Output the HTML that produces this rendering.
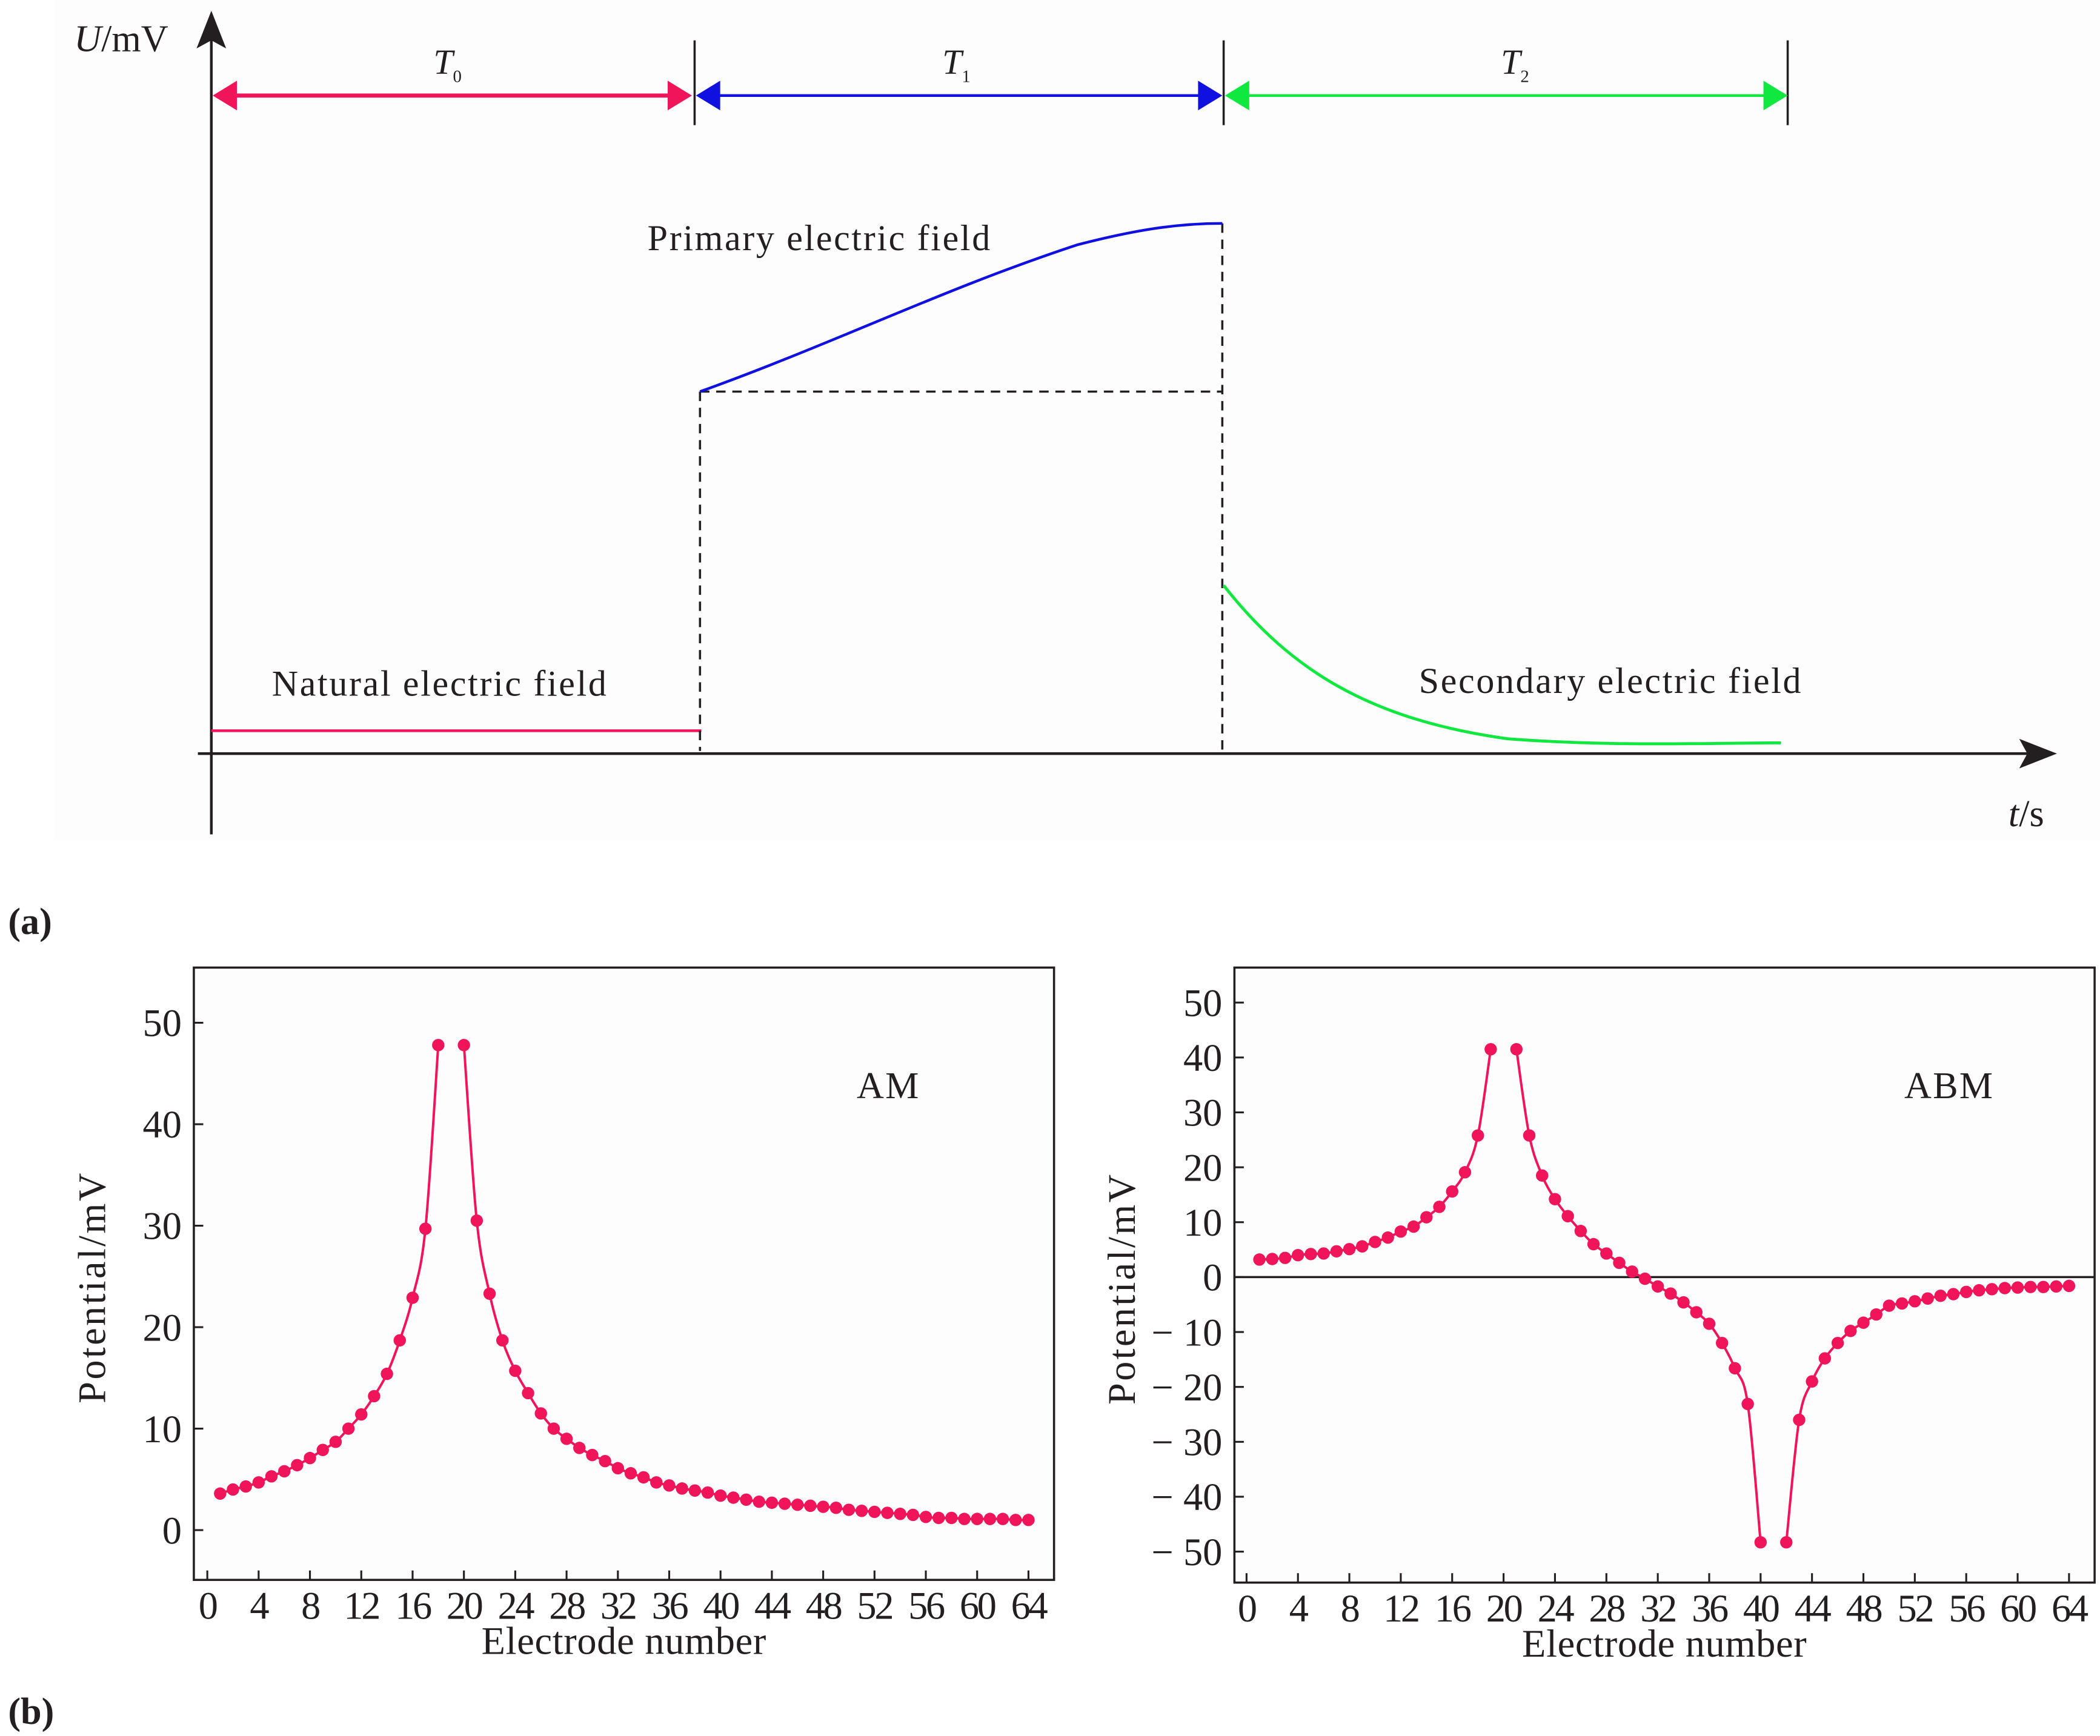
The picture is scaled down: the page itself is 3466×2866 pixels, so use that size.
<!DOCTYPE html>
<html><head><meta charset="utf-8"><style>
html,body{margin:0;padding:0;background:#fff;}
svg{display:block;}
text{font-family:"Liberation Serif",serif;fill:#231f20;}
</style></head><body>
<svg id="fig" width="3466" height="2866" viewBox="0 0 1560 1290" preserveAspectRatio="none" xmlns="http://www.w3.org/2000/svg">
<rect x="0" y="0" width="1560" height="1290" fill="#fff"/>
<rect x="40" y="0" width="1520" height="625" fill="#fdfdfe"/>
<g>
<line x1="157" y1="620" x2="157" y2="20" stroke="#231f20" stroke-width="2"/>
<path d="M157,8 L146,36 L157,30 L168,36 Z" fill="#231f20"/>
<line x1="147" y1="560" x2="1515" y2="560" stroke="#231f20" stroke-width="2"/>
<path d="M1528,560 L1500,549 L1506,560 L1500,571 Z" fill="#231f20"/>
<text x="55" y="38" font-size="28"><tspan font-style="italic">U</tspan>/mV</text>
<text x="1492" y="614" font-size="28"><tspan font-style="italic">t</tspan>/s</text>
<g stroke="#231f20" stroke-width="1.6">
<line x1="516" y1="30" x2="516" y2="93"/>
<line x1="909" y1="30" x2="909" y2="93"/>
<line x1="1328" y1="30" x2="1328" y2="93"/>
</g>
<g>
<line x1="170" y1="71" x2="500" y2="71" stroke="#f0145a" stroke-width="3"/>
<path d="M158,71 L176,60 L176,82 Z M514,71 L496,60 L496,82 Z" fill="#f0145a"/></g>
<g>
<line x1="530" y1="71" x2="895" y2="71" stroke="#1010e0" stroke-width="2"/>
<path d="M517,71 L535,60 L535,82 Z M908,71 L890,60 L890,82 Z" fill="#1010e0"/></g>
<g>
<line x1="925" y1="71" x2="1315" y2="71" stroke="#10e840" stroke-width="2"/>
<path d="M910,71 L928,60 L928,82 Z M1328,71 L1310,60 L1310,82 Z" fill="#10e840"/></g>
<text x="322" y="55" font-size="26" font-style="italic">T<tspan font-size="13" font-style="normal" dy="6">0</tspan></text>
<text x="700" y="55" font-size="26" font-style="italic">T<tspan font-size="13" font-style="normal" dy="6">1</tspan></text>
<text x="1115" y="55" font-size="26" font-style="italic">T<tspan font-size="13" font-style="normal" dy="6">2</tspan></text>
<line x1="157" y1="543" x2="521" y2="543" stroke="#f0145a" stroke-width="2"/>
<g stroke="#231f20" stroke-width="1.6" stroke-dasharray="7,5" fill="none">
<line x1="520" y1="291" x2="520" y2="558"/>
<line x1="520" y1="291" x2="908" y2="291"/>
<line x1="908" y1="166" x2="908" y2="558"/>
</g>
<path d="M520,291 C620,255 700,215 800,182 C850,169 880,166 908,166" fill="none" stroke="#1010e0" stroke-width="2"/>
<path d="M909,435 C960,500 1020,535 1120,549 C1200,555 1270,552 1323,552" fill="none" stroke="#10e840" stroke-width="2.2"/>
<text x="481" y="186" font-size="27" letter-spacing="1.2">Primary electric field</text>
<text x="202" y="517" font-size="27" letter-spacing="1.2">Natural electric field</text>
<text x="1054" y="515" font-size="27" letter-spacing="1.2">Secondary electric field</text>
</g>
<text x="6" y="694" font-size="28" font-weight="bold">(a)</text>
<text x="6" y="1281" font-size="28" font-weight="bold">(b)</text>
<g id="chartAM"></g>
<g id="chartABM"></g>
</svg>
<script>
const amX = [1,2,3,4,5,6,7,8,9,10,11,12,13,14,15,16,17,18, 20,21,22,23,24,25,26,27,28,29,30,31,32,33,34,35,36,37,38,39,40,41,42,43,44,45,46,47,48,49,50,51,52,53,54,55,56,57,58,59,60,61,62,63,64];
const amY = [3.6,4.0,4.3,4.7,5.3,5.8,6.4,7.1,7.9,8.7,10.0,11.4,13.2,15.4,18.7,22.9,29.7,47.8, 47.8,30.5,23.3,18.7,15.7,13.5,11.5,10.0,9.0,8.1,7.4,6.8,6.1,5.6,5.2,4.7,4.4,4.1,3.9,3.7,3.4,3.2,3.0,2.8,2.7,2.6,2.5,2.4,2.3,2.2,2.0,1.9,1.8,1.7,1.6,1.5,1.3,1.2,1.2,1.1,1.1,1.1,1.1,1.0,1.0];
const amBreaks = [18];
const abmX = [1,2,3,4,5,6,7,8,9,10,11,12,13,14,15,16,17,18,19, 21,22,23,24,25,26,27,28,29,30,31,32,33,34,35,36,37,38,39,40, 42,43,44,45,46,47,48,49,50,51,52,53,54,55,56,57,58,59,60,61,62,63,64];
const abmY = [3.2,3.3,3.5,4.0,4.2,4.3,4.7,5.1,5.6,6.4,7.2,8.3,9.2,10.9,12.8,15.6,19.1,25.8,41.5, 41.5,25.8,18.5,14.2,11.1,8.4,6.0,4.3,2.6,1.0,-0.3,-1.7,-3.0,-4.6,-6.4,-8.5,-12.0,-16.6,-23.1,-48.3, -48.3,-26.0,-19.0,-14.8,-12.0,-9.8,-8.3,-6.8,-5.2,-4.8,-4.4,-3.9,-3.4,-3.1,-2.7,-2.4,-2.2,-2.0,-1.9,-1.8,-1.8,-1.7,-1.6];
const abmBreaks = [19,40];
const xTicks = [0,4,8,12,16,20,24,28,32,36,40,44,48,52,56,60,64];
const amYTicks = [0,10,20,30,40,50];
const abmYTicks = [50,40,30,20,10,0,-10,-20,-30,-40,-50];
const NS = "http://www.w3.org/2000/svg";
function mk(tag, attrs, parent){const e=document.createElementNS(NS,tag);for(const k in attrs)e.setAttribute(k,attrs[k]);parent.appendChild(e);return e;}
function smooth(pts){
  if(pts.length<2) return "";
  let d="M"+pts[0][0]+","+pts[0][1];
  for(let i=0;i<pts.length-1;i++){
    const p0=pts[Math.max(0,i-1)],p1=pts[i],p2=pts[i+1],p3=pts[Math.min(pts.length-1,i+2)];
    const c1=[p1[0]+(p2[0]-p0[0])/6,p1[1]+(p2[1]-p0[1])/6];
    const c2=[p2[0]-(p3[0]-p1[0])/6,p2[1]-(p3[1]-p1[1])/6];
    d+=" C"+c1[0]+","+c1[1]+" "+c2[0]+","+c2[1]+" "+p2[0]+","+p2[1];
  }
  return d;
}
function drawChart(g, cfg){
  const X=v=>cfg.x0+(v-0)*(cfg.x64-cfg.x0)/64;
  const Y=v=>cfg.yZero-(v)*(cfg.yZero-cfg.yTop)/cfg.topVal;
  const frame=mk("rect",{x:cfg.left,y:cfg.top,width:cfg.right-cfg.left,height:cfg.bottom-cfg.top,fill:"#fdfdfe",stroke:"#231f20","stroke-width":1.6},g);
  
  
  if(cfg.zeroLine){
    const zl=mk("line",{x1:cfg.left,x2:cfg.right,y1:Y(0),y2:Y(0),stroke:"#231f20","stroke-width":1.6},g);
    
    
  }
  xTicks.forEach(t=>{
    const l=mk("line",{x1:X(t),x2:X(t),y1:cfg.bottom,y2:cfg.bottom-7,stroke:"#231f20","stroke-width":1.4},g);
    
    
    const tx=mk("text",{x:X(t),y:cfg.bottom+29,"font-size":29,"text-anchor":"middle","letter-spacing":"-1.5"},g);
    tx.textContent=t;
    
    
  });
  cfg.yTicks.forEach(t=>{
    const l=mk("line",{x1:cfg.left,x2:cfg.left+7,y1:Y(t),y2:Y(t),stroke:"#231f20","stroke-width":1.4},g);
    
    
    const tx=mk("text",{x:cfg.left-9,y:Y(t)+10,"font-size":29,"text-anchor":"end"},g);
    tx.textContent=t<0?"\u2212 "+(-t):String(t);
    
    
  });
  const xt=mk("text",{x:(cfg.left+cfg.right)/2,y:cfg.bottom+55,"font-size":29,"text-anchor":"middle","letter-spacing":"0.3"},g);
  xt.textContent="Electrode number";
  
  
  const yt=mk("text",{x:0,y:0,"font-size":29,"text-anchor":"middle","letter-spacing":"1.5",transform:"translate("+cfg.yTitleX+","+((cfg.top+cfg.bottom)/2+10)+") rotate(-90)"},g);
  yt.textContent="Potential/mV";
  
  
  const lab=mk("text",{x:cfg.labX,y:cfg.top+97,"font-size":28,"text-anchor":"middle","letter-spacing":"1"},g);
  lab.textContent=cfg.label;
  
  
  let seg=[];const segs=[];
  cfg.xs.forEach((x,i)=>{seg.push([X(x),Y(cfg.ys[i])]);if(cfg.breaks.includes(x)){segs.push(seg);seg=[];}});
  segs.push(seg);
  segs.forEach(s=>{
    const p=mk("path",{d:smooth(s),fill:"none",stroke:"#f0145a","stroke-width":1.8},g);
    
    
  });
  cfg.xs.forEach((x,i)=>{
    const c=mk("circle",{cx:X(x),cy:Y(cfg.ys[i]),r:4.6,fill:"#f0145a"},g);
    
    
  });
}
drawChart(document.getElementById("chartAM"),{left:144,right:783,top:719,bottom:1174,x0:154,x64:764,yZero:1137,yTop:760,topVal:50,yTicks:amYTicks,xs:amX,ys:amY,breaks:amBreaks,label:"AM",labX:660,yTitleX:78,zeroLine:false});
drawChart(document.getElementById("chartABM"),{left:917,right:1556,top:719,bottom:1176,x0:926,x64:1537,yZero:949,yTop:745,topVal:50,yTicks:abmYTicks,xs:abmX,ys:abmY,breaks:abmBreaks,label:"ABM",labX:1448,yTitleX:843,zeroLine:true});
</script>
</body></html>
